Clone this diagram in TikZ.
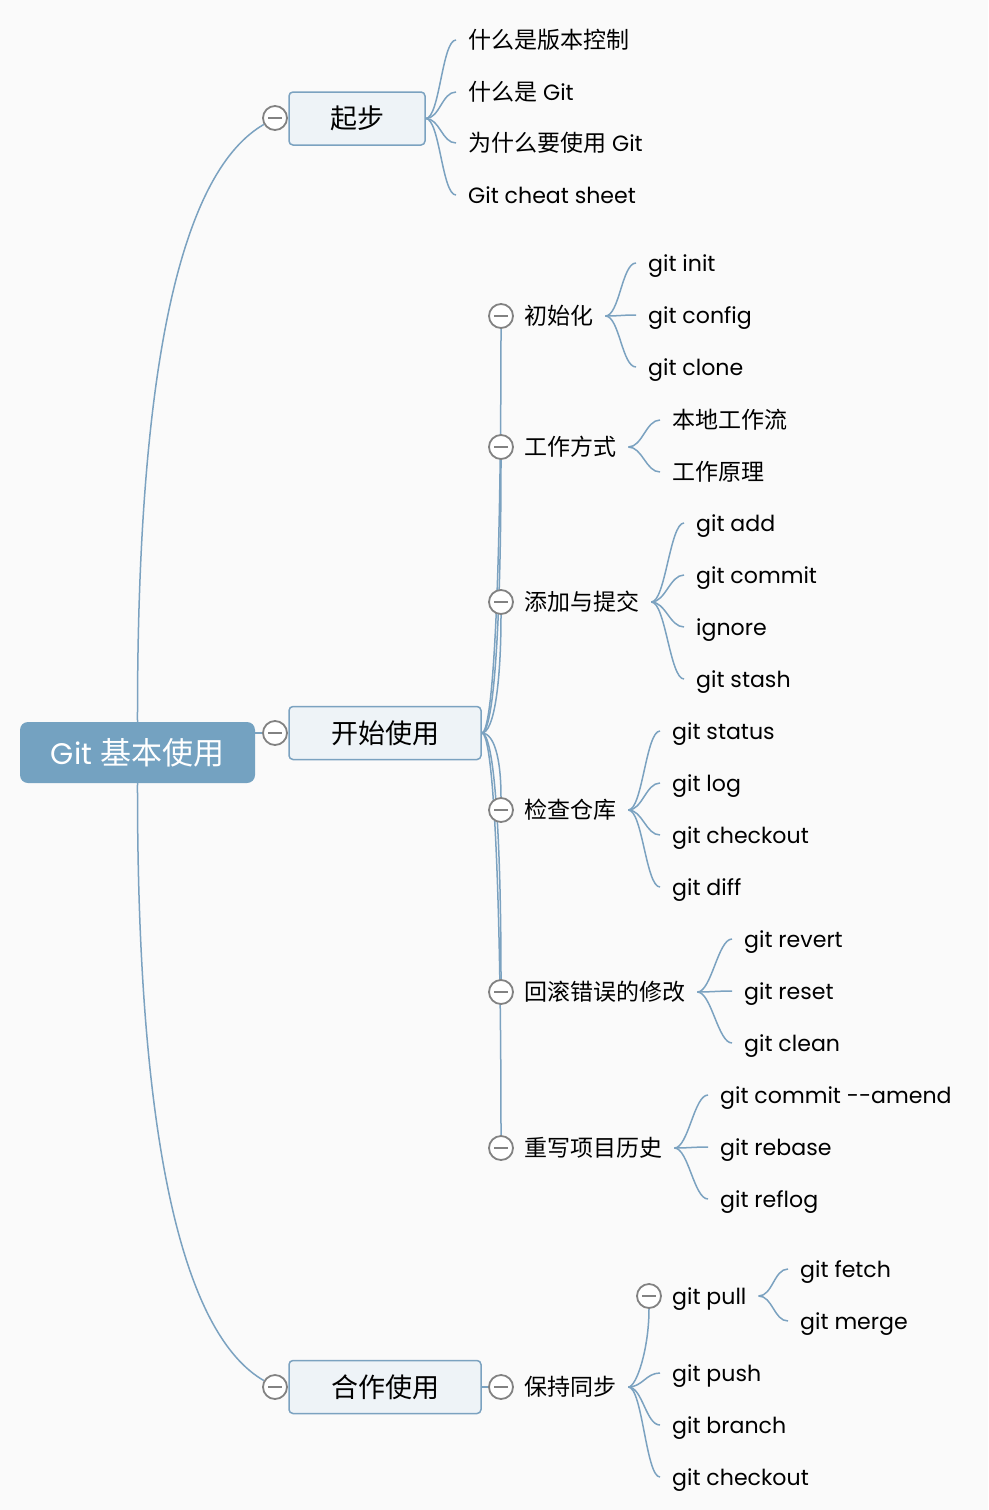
\documentclass[tikz,border=0pt]{standalone}
\usepackage{fontspec}
\setmainfont{Poppins}[Scale=0.96]
\newfontfamily\cjk{Noto Sans CJK SC}
\usetikzlibrary{positioning}
\definecolor{mapline}{HTML}{7BA2C0}
\definecolor{mapfill}{HTML}{EEF3F7}
\definecolor{maproot}{HTML}{74A2C1}
\definecolor{mapfold}{HTML}{828282}
\definecolor{mappaper}{HTML}{FAFAFA}
\pgfdeclarelayer{paper}
\pgfdeclarelayer{links}
\pgfsetlayers{paper,links,main}

\begin{document}
\begin{tikzpicture}[x=1pt, y=-1pt,
  root/.style={fill=maproot, rounded corners=8pt, minimum width=235pt, minimum height=61pt, text=white, font=\fontsize{31}{31}\selectfont},
  topic/.style={draw=mapline, fill=mapfill, line width=1.5pt, rounded corners=4pt, minimum height=53pt, font=\fontsize{27}{27}\selectfont},
  subtopic/.style={anchor=west, inner xsep=12pt, inner ysep=0pt, text height=18pt, text depth=2pt, font=\fontsize{23}{23}\selectfont},
  leaf/.style={subtopic},
  fold/.style={circle, draw=mapfold, fill=white, line width=1.8pt, minimum size=24pt, inner sep=0pt,
    path picture={\draw[mapfold, line width=2.2pt] ([xshift=-7pt]path picture bounding box.center) -- ([xshift=7pt]path picture bounding box.center);}},
  link/.style={draw=mapline, line width=1.5pt}
]
\begin{pgfonlayer}{paper}
\fill[mappaper] (0,0) rectangle (988,1510);
\end{pgfonlayer}
\useasboundingbox (0,0) rectangle (988,1510);

% root and main topics
\node[root] (root) at (137.5,752.5) {Git {\cjk 基本使用}};

\node[fold] (fstart) at (275,118) {};
\node[topic, minimum width=136pt] (start) at (357,118.5) {\cjk 起步};
\node[fold] (fuse) at (275,733) {};
\node[topic, minimum width=192pt] (use) at (385,733) {\cjk 开始使用};
\node[fold] (fteam) at (275,1387) {};
\node[topic, minimum width=192pt] (team) at (385,1387) {\cjk 合作使用};

% start
\node[leaf] (s1) at (456,40) {\cjk 什么是版本控制};
\node[leaf] (s2) at (456,92) {{\cjk 什么是} Git};
\node[leaf] (s3) at (456,143) {{\cjk 为什么要使用} Git};
\node[leaf] (s4) at (456,195) {Git cheat sheet};

% use: subtopics
\node[fold] (finit) at (501,316) {};
\node[subtopic] (init) at (512,316) {\cjk 初始化};
\node[fold] (fwork) at (501,447) {};
\node[subtopic] (work) at (512,447) {\cjk 工作方式};
\node[fold] (fadd) at (501,602) {};
\node[subtopic] (add) at (512,602) {\cjk 添加与提交};
\node[fold] (fcheck) at (501,810) {};
\node[subtopic] (check) at (512,810) {\cjk 检查仓库};
\node[fold] (fundo) at (501,992) {};
\node[subtopic] (undo) at (512,992) {\cjk 回滚错误的修改};
\node[fold] (frewrite) at (501,1148) {};
\node[subtopic] (rewrite) at (512,1148) {\cjk 重写项目历史};

% use: leaves
\node[leaf] (i1) at (636,263) {git init};
\node[leaf] (i2) at (636,315) {git config};
\node[leaf] (i3) at (636,367) {git clone};
\node[leaf] (w1) at (660,420) {\cjk 本地工作流};
\node[leaf] (w2) at (660,472) {\cjk 工作原理};
\node[leaf] (a1) at (684,523) {git add};
\node[leaf] (a2) at (684,575) {git commit};
\node[leaf] (a3) at (684,627) {ignore};
\node[leaf] (a4) at (684,679) {git stash};
\node[leaf] (c1) at (660,731) {git status};
\node[leaf] (c2) at (660,783) {git log};
\node[leaf] (c3) at (660,835) {git checkout};
\node[leaf] (c4) at (660,887) {git diff};
\node[leaf] (u1) at (732,939) {git revert};
\node[leaf] (u2) at (732,991) {git reset};
\node[leaf] (u3) at (732,1043) {git clean};
\node[leaf] (r1) at (708,1095) {git commit -{}-amend};
\node[leaf] (r2) at (708,1147) {git rebase};
\node[leaf] (r3) at (708,1199) {git reflog};

% team
\node[fold] (fsync) at (501,1387) {};
\node[subtopic] (sync) at (512,1387) {\cjk 保持同步};
\node[fold] (fpull) at (649,1296) {};
\node[subtopic] (pull) at (660,1296) {git pull};
\node[leaf] (y2) at (660,1373) {git push};
\node[leaf] (y3) at (660,1425) {git branch};
\node[leaf] (y4) at (660,1477) {git checkout};
\node[leaf] (p1) at (788,1269) {git fetch};
\node[leaf] (p2) at (788,1321) {git merge};

\begin{pgfonlayer}{links}
\draw[link] (root.north) .. controls (137,350) and (185,170) .. (fstart);
\draw[link] (root.east |- fuse) -- (fuse);
\draw[link] (root.south) .. controls (137,1150) and (185,1335) .. (fteam);

\draw[link] (start.east) .. controls +(14,0) and +(-14,0) .. (s1.west);
\draw[link] (start.east) .. controls +(14,0) and +(-14,0) .. (s2.west);
\draw[link] (start.east) .. controls +(14,0) and +(-14,0) .. (s3.west);
\draw[link] (start.east) .. controls +(14,0) and +(-14,0) .. (s4.west);

\draw[link] (use.east) .. controls +(12,0) and +(0,240) .. (finit.south);
\draw[link] (use.east) .. controls +(12,0) and +(0,165) .. (fwork.south);
\draw[link] (use.east) .. controls +(12,0) and +(0,70) .. (fadd.south);
\draw[link] (use.east) .. controls +(12,0) and +(0,-40) .. (fcheck.north);
\draw[link] (use.east) .. controls +(12,0) and +(0,-150) .. (fundo.north);
\draw[link] (use.east) .. controls +(12,0) and +(0,-240) .. (frewrite.north);

\draw[link] (init.east) .. controls +(14,0) and +(-14,0) .. (i1.west);
\draw[link] (init.east) .. controls +(14,0) and +(-14,0) .. (i2.west);
\draw[link] (init.east) .. controls +(14,0) and +(-14,0) .. (i3.west);
\draw[link] (work.east) .. controls +(14,0) and +(-14,0) .. (w1.west);
\draw[link] (work.east) .. controls +(14,0) and +(-14,0) .. (w2.west);
\draw[link] (add.east) .. controls +(14,0) and +(-14,0) .. (a1.west);
\draw[link] (add.east) .. controls +(14,0) and +(-14,0) .. (a2.west);
\draw[link] (add.east) .. controls +(14,0) and +(-14,0) .. (a3.west);
\draw[link] (add.east) .. controls +(14,0) and +(-14,0) .. (a4.west);
\draw[link] (check.east) .. controls +(14,0) and +(-14,0) .. (c1.west);
\draw[link] (check.east) .. controls +(14,0) and +(-14,0) .. (c2.west);
\draw[link] (check.east) .. controls +(14,0) and +(-14,0) .. (c3.west);
\draw[link] (check.east) .. controls +(14,0) and +(-14,0) .. (c4.west);
\draw[link] (undo.east) .. controls +(14,0) and +(-14,0) .. (u1.west);
\draw[link] (undo.east) .. controls +(14,0) and +(-14,0) .. (u2.west);
\draw[link] (undo.east) .. controls +(14,0) and +(-14,0) .. (u3.west);
\draw[link] (rewrite.east) .. controls +(14,0) and +(-14,0) .. (r1.west);
\draw[link] (rewrite.east) .. controls +(14,0) and +(-14,0) .. (r2.west);
\draw[link] (rewrite.east) .. controls +(14,0) and +(-14,0) .. (r3.west);

\draw[link] (team.east) -- (fsync);
\draw[link] (sync.east) .. controls +(8,0) and +(0,40) .. (fpull.south);
\draw[link] (sync.east) .. controls +(14,0) and +(-14,0) .. (y2.west);
\draw[link] (sync.east) .. controls +(14,0) and +(-14,0) .. (y3.west);
\draw[link] (sync.east) .. controls +(14,0) and +(-14,0) .. (y4.west);
\draw[link] (pull.east) .. controls +(14,0) and +(-14,0) .. (p1.west);
\draw[link] (pull.east) .. controls +(14,0) and +(-14,0) .. (p2.west);
\end{pgfonlayer}
\end{tikzpicture}
\end{document}
